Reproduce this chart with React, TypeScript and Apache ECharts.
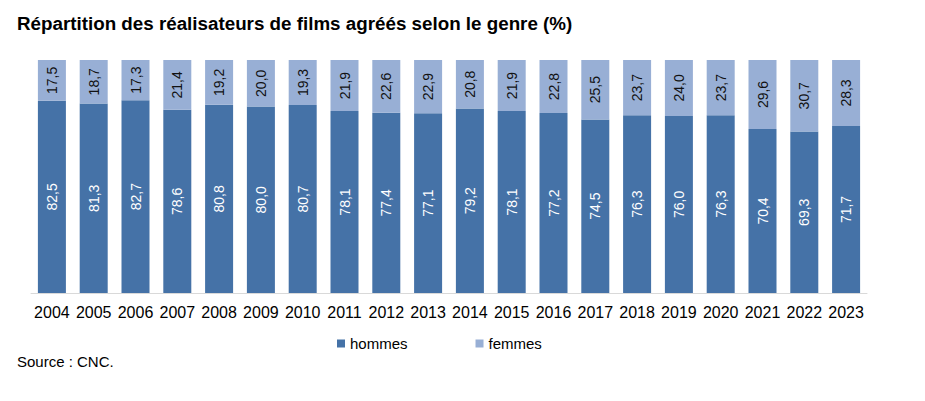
import React, { useEffect, useRef } from "react";
import * as echarts from "echarts";

const years = ["2004","2005","2006","2007","2008","2009","2010","2011","2012","2013","2014","2015","2016","2017","2018","2019","2020","2021","2022","2023"];
const hommes = [82.5, 81.3, 82.7, 78.6, 80.8, 80.0, 80.7, 78.1, 77.4, 77.1, 79.2, 78.1, 77.2, 74.5, 76.3, 76.0, 76.3, 70.4, 69.3, 71.7];
const femmes = [17.5, 18.7, 17.3, 21.4, 19.2, 20.0, 19.3, 21.9, 22.6, 22.9, 20.8, 21.9, 22.8, 25.5, 23.7, 24.0, 23.7, 29.6, 30.7, 28.3];

const FONT = "'Liberation Sans', Arial, sans-serif";
const fmt = (p: any) => Number(p.value).toFixed(1).replace(".", ",");

export default function App() {
  const ref = useRef<HTMLDivElement>(null);
  useEffect(() => {
    if (!ref.current) return;
    const chart = echarts.init(ref.current, undefined, { renderer: "svg" });
    chart.setOption({
      animation: false,
      backgroundColor: "#ffffff",
      textStyle: { fontFamily: FONT },
      title: {
        text: "Répartition des réalisateurs de films agréés selon le genre (%)",
        left: 12,
        top: 9,
        textStyle: { fontFamily: FONT, fontSize: 18.8, fontWeight: "bold", color: "#000" },
      },
      grid: { left: 31, right: 58, top: 60, bottom: 108, containLabel: false },
      legend: {
        left: 332,
        top: 331,
        itemWidth: 8,
        itemHeight: 8,
        itemGap: 68,
        icon: "rect",
        textStyle: { fontFamily: FONT, fontSize: 15, color: "#000" },
        data: ["hommes", "femmes"],
      },
      xAxis: {
        type: "category",
        data: years,
        axisLine: { show: true, lineStyle: { color: "#d9d9d9", width: 1 } },
        axisTick: { show: false },
        axisLabel: { color: "#000", fontSize: 16, fontFamily: FONT, margin: 11, interval: 0 },
      },
      yAxis: { type: "value", min: 0, max: 100, show: false },
      series: [
        {
          name: "hommes",
          type: "bar",
          stack: "t",
          data: hommes,
          barCategoryGap: "33%",
          itemStyle: { color: "#4572a7" },
          label: { show: true, position: "inside", rotate: 90, color: "#fff", fontSize: 14, fontFamily: FONT, formatter: fmt },
        },
        {
          name: "femmes",
          type: "bar",
          stack: "t",
          data: femmes,
          itemStyle: { color: "#98afd5" },
          label: { show: true, position: "inside", rotate: 90, color: "#111", fontSize: 14, fontFamily: FONT, formatter: fmt },
        },
      ],
      graphic: [
        {
          type: "text",
          left: 17,
          top: 354,
          style: { text: "Source : CNC.", font: `15px ${FONT}`, fill: "#000" },
        },
      ],
    });
    return () => chart.dispose();
  }, []);
  return <div ref={ref} style={{ position: "fixed", left: 0, top: 0, width: 925, height: 401 }} />;
}
